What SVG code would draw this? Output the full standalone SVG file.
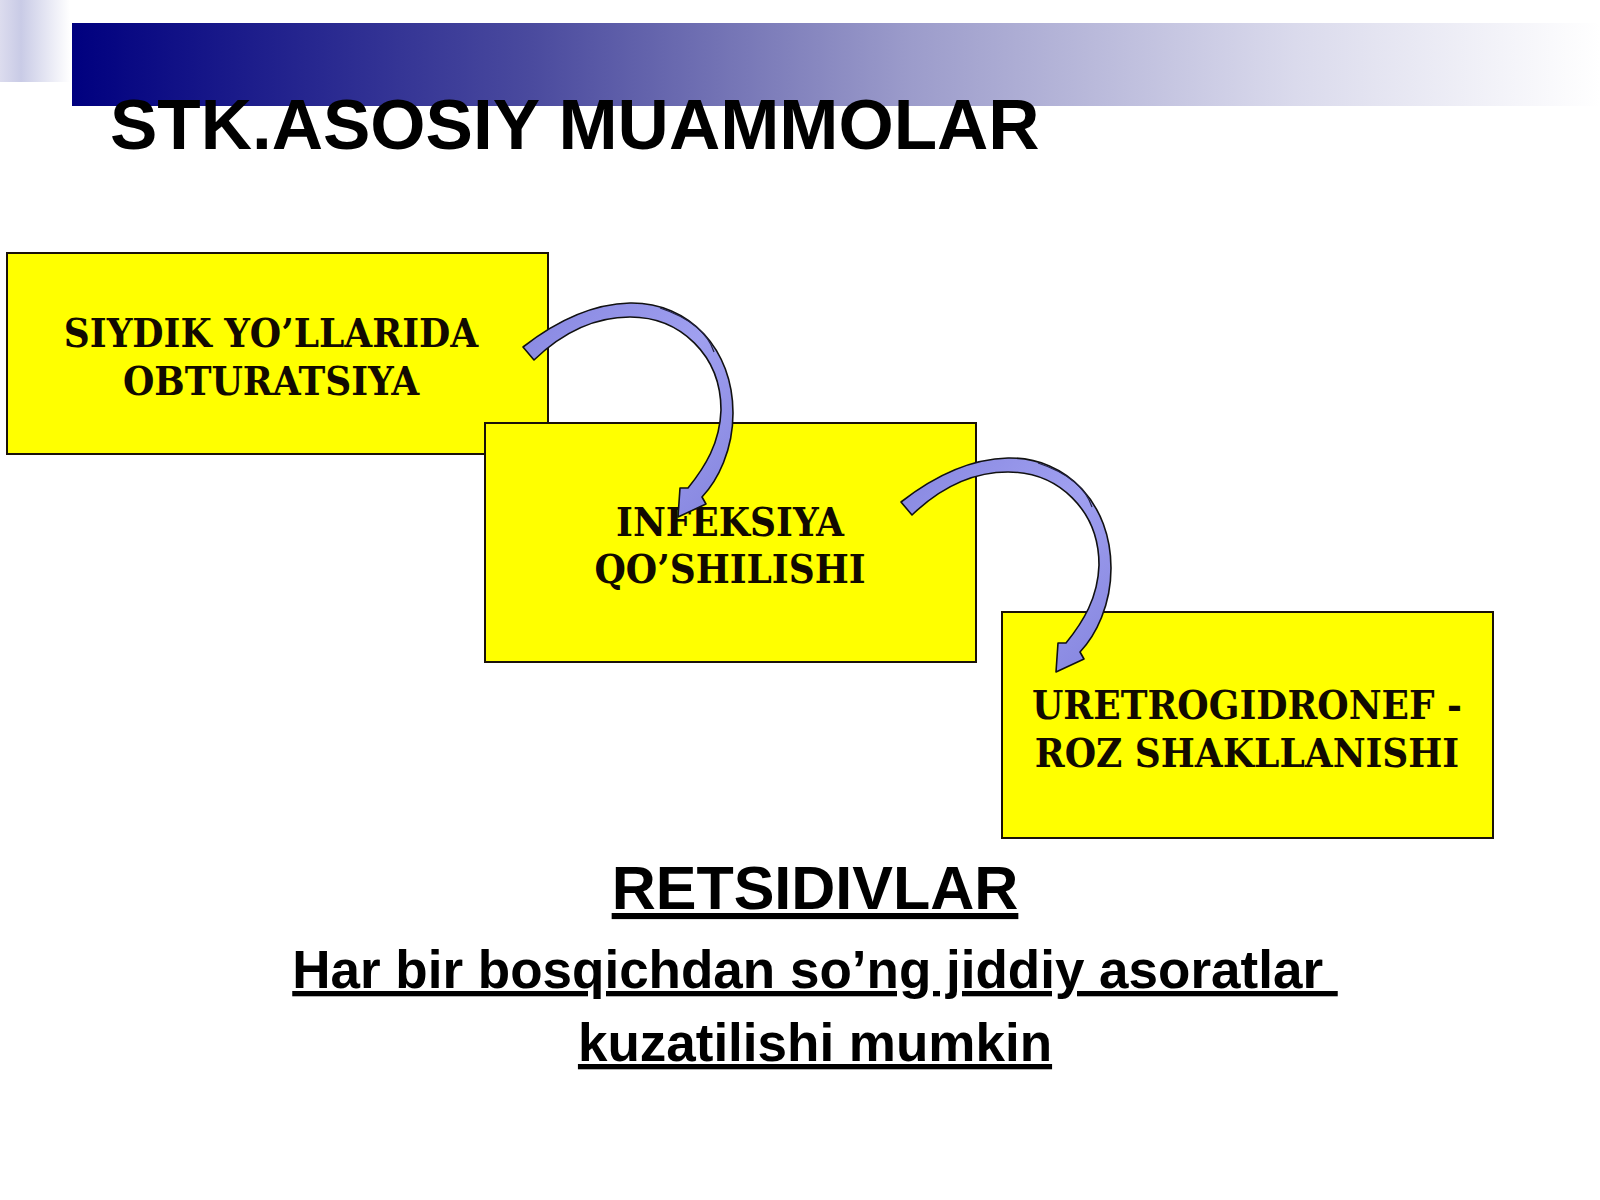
<svg xmlns="http://www.w3.org/2000/svg" xmlns:xlink="http://www.w3.org/1999/xlink" width="1600" height="1200" viewBox="0 0 1600 1200">
  <defs>
    <linearGradient id="bandGrad" x1="0" y1="0" x2="1" y2="0">
      <stop offset="0" stop-color="#00007f"/>
      <stop offset="0.3" stop-color="#4a4a9e"/>
      <stop offset="0.55" stop-color="#9c9ccb"/>
      <stop offset="0.8" stop-color="#dadaec"/>
      <stop offset="1" stop-color="#ffffff"/>
    </linearGradient>
    <linearGradient id="cornerGrad" x1="0" y1="0" x2="1" y2="0">
      <stop offset="0" stop-color="#dcdcee"/>
      <stop offset="0.3" stop-color="#c9cbe6"/>
      <stop offset="1" stop-color="#ffffff"/>
    </linearGradient>
    <linearGradient id="arrowGrad" x1="0" y1="0" x2="1" y2="1">
      <stop offset="0" stop-color="#8686e0"/>
      <stop offset="0.5" stop-color="#a0a0f0"/>
      <stop offset="1" stop-color="#8484de"/>
    </linearGradient>
    <g id="curvedArrow">
      <path class="arrow" d="M 523,347 C 555,322 590,304 630,303 C 690,302 733,350 733,413 C 733,450 718,480 702,497 L 706,504 L 678,517 L 680,488 L 688,488 C 705,467 720,443 721,410 C 721,355 680,317 630,317 C 595,317 562,333 534,360 Z"/>
      <path class="fold" d="M 660,308 C 690,318 708,334 714,352"/>
    </g>
    <style>
      .box { fill: #ffff00; stroke: #1a1208; stroke-width: 2; }
      .boxtext { font-family: "DejaVu Serif", serif; font-stretch: condensed; font-weight: bold; font-size: 40px; fill: #120a00; text-anchor: middle; }
      .title { font-family: "Liberation Sans", Arial, sans-serif; font-weight: bold; font-size: 71px; fill: #000000; }
      .bottom { font-family: "Liberation Sans", Arial, sans-serif; font-weight: bold; fill: #000000; text-anchor: middle; text-decoration: underline; }
      .arrow { fill: url(#arrowGrad); stroke: #111111; stroke-width: 1.6; stroke-linejoin: round; }
      .fold { fill: none; stroke: #222244; stroke-width: 1.2; }
    </style>
  </defs>

  <rect x="0" y="0" width="1600" height="1200" fill="#ffffff"/>

  <g id="header">
    <rect x="0" y="0" width="70" height="82" fill="url(#cornerGrad)"/>
    <rect x="72" y="23" width="1528" height="83" fill="url(#bandGrad)"/>
    <text class="title" x="110" y="149">STK.ASOSIY MUAMMOLAR</text>
  </g>

  <g id="node-obturatsiya">
    <rect class="box" x="7" y="253" width="541" height="201"/>
    <text class="boxtext" x="271" y="347">SIYDIK YO’LLARIDA</text>
    <text class="boxtext" x="271" y="395">OBTURATSIYA</text>
  </g>

  <g id="node-infeksiya">
    <rect class="box" x="485" y="423" width="491" height="239"/>
    <text class="boxtext" x="730" y="536">INFEKSIYA</text>
    <text class="boxtext" x="730" y="583">QO’SHILISHI</text>
  </g>

  <g id="node-uretrogidronefroz">
    <rect class="box" x="1002" y="612" width="491" height="226"/>
    <text class="boxtext" x="1247" y="719">URETROGIDRONEF -</text>
    <text class="boxtext" x="1247" y="767">ROZ SHAKLLANISHI</text>
  </g>

  <g id="connectors">
    <use xlink:href="#curvedArrow"/>
    <use xlink:href="#curvedArrow" transform="translate(378,155)"/>
  </g>

  <g id="footer">
    <text class="bottom" x="815" y="909" font-size="61">RETSIDIVLAR</text>
    <text class="bottom" x="815" y="988" font-size="53">Har bir bosqichdan so’ng jiddiy asoratlar&#160;</text>
    <text class="bottom" x="815" y="1061" font-size="53">kuzatilishi mumkin</text>
  </g>
</svg>
